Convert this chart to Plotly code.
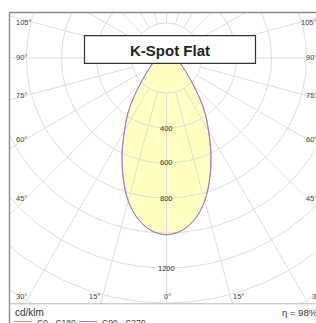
import numpy as np
import plotly.graph_objects as go

# ---------------- data ----------------
gamma_deg = [0, 5, 10, 15, 20, 25, 30, 35, 40, 45, 50, 55, 60, 65, 70, 75, 80, 85, 90]
c0_c180 = [1010, 990, 935, 845, 725, 600, 480, 385, 290, 215, 165, 135, 110, 95, 80, 60, 40, 20, 0]
c90_c270 = [1010, 990, 935, 845, 725, 600, 480, 385, 290, 215, 165, 135, 110, 95, 80, 60, 40, 20, 0]
radial_ticks = [400, 600, 800, 1200]
grid_radii = [200, 400, 600, 800, 1000, 1200, 1400, 1600, 1800, 2000]
side_labels = ["105°", "90°", "75°", "60°", "45°"]
bottom_labels = ["30°", "15°", "0°", "15°", "30°"]
title = "K-Spot Flat"
unit = "cd/klm"
efficiency = "η = 98%"
series_names = ["C0 - C180", "C90 - C270"]

# ---------------- geometry (pixel layout) ----------------
W, H = 316, 323
L, T, B = 10, 13, 304          # plot area edges in px
CX, CY = 166.5, 58.0           # pole position in px
S = 0.175                      # px per cd/klm

def px(x):
    return (x - L) / (W - L)

def py(y):
    return (B - y) / (B - T)

FONT = "Liberation Sans, Arial, sans-serif"
GRID = "rgb(222,222,222)"
C0_COL = "rgb(226,150,150)"
C90_COL = "rgb(150,120,215)"

def curve(vals):
    g = np.radians(np.array(gamma_deg, dtype=float))
    v = np.array(vals, dtype=float)
    gg = np.concatenate([-g[::-1], g[1:]])
    vv = np.concatenate([v[::-1], v[1:]])
    return vv * np.sin(gg), -vv * np.cos(gg)

fig = go.Figure()

# filled distribution
fx, fy = curve(c90_c270)
fig.add_trace(go.Scatter(x=fx, y=fy, mode="lines", fill="toself",
                         fillcolor="rgb(255,255,194)", line=dict(width=0, shape="spline"),
                         hoverinfo="skip", showlegend=False))

# grid circles
t = np.linspace(0, 2 * np.pi, 361)
for r in grid_radii:
    fig.add_trace(go.Scatter(x=r * np.cos(t), y=r * np.sin(t), mode="lines",
                             line=dict(color=GRID, width=1),
                             hoverinfo="skip", showlegend=False))
# radial lines every 15 deg, starting at first circle
for a in range(0, 360, 15):
    ar = np.radians(a)
    r0, r1 = grid_radii[0], 2600
    fig.add_trace(go.Scatter(x=[r0 * np.sin(ar), r1 * np.sin(ar)],
                             y=[-r0 * np.cos(ar), -r1 * np.cos(ar)], mode="lines",
                             line=dict(color=GRID, width=1),
                             hoverinfo="skip", showlegend=False))

# distribution curves
x0, y0 = curve(c0_c180)
fig.add_trace(go.Scatter(x=x0, y=y0, mode="lines",
                         line=dict(color=C0_COL, width=1, shape="spline"),
                         hoverinfo="skip", showlegend=False))
x9, y9 = curve(c90_c270)
fig.add_trace(go.Scatter(x=x9, y=y9, mode="lines",
                         line=dict(color=C90_COL, width=1, shape="spline"),
                         hoverinfo="skip", showlegend=False))

ann = []
# radial value labels along the 0 deg axis
for v in radial_ticks:
    ann.append(dict(x=px(CX), y=py(CY + v * S), xref="paper", yref="paper",
                    text=str(v), showarrow=False, xanchor="center", yanchor="middle",
                    font=dict(family=FONT, size=7.5, color="#333")))

side_y = [23, 57, 95, 139, 199]
for lab, yy in zip(side_labels, side_y):
    ann.append(dict(x=px(14), y=py(yy), xref="paper", yref="paper", text=lab,
                    showarrow=False, xanchor="left", yanchor="middle",
                    font=dict(family=FONT, size=7.5, color="#444")))
    ann.append(dict(x=px(319), y=py(yy), xref="paper", yref="paper", text=lab,
                    showarrow=False, xanchor="right", yanchor="middle",
                    font=dict(family=FONT, size=7.5, color="#444")))

bottom_x = [(14, "left"), (94.5, "center"), (167.3, "center"), (238.3, "center"), (310, "left")]
for lab, (xx, anc) in zip(bottom_labels, bottom_x):
    ann.append(dict(x=px(xx), y=py(296), xref="paper", yref="paper", text=lab,
                    showarrow=False, xanchor=anc, yanchor="middle",
                    font=dict(family=FONT, size=7.5, color="#444")))

# title
ann.append(dict(x=px(170), y=py(50), xref="paper", yref="paper", text="<b>%s</b>" % title,
                showarrow=False, xanchor="center", yanchor="middle",
                font=dict(family=FONT, size=15, color="#222")))
# footer
ann.append(dict(x=px(13), y=py(313), xref="paper", yref="paper", text=unit,
                showarrow=False, xanchor="left", yanchor="middle",
                font=dict(family=FONT, size=10, color="#333")))
ann.append(dict(x=px(320), y=py(313), xref="paper", yref="paper", text=efficiency,
                showarrow=False, xanchor="right", yanchor="middle",
                font=dict(family=FONT, size=9.5, color="#333")))
leg = [(14, 32, 35, C0_COL), (79, 97, 100, C90_COL)]
shapes = []
for name, (l0, l1, tx, col) in zip(series_names, leg):
    shapes.append(dict(type="line", xref="paper", yref="paper", x0=px(l0), x1=px(l1),
                       y0=py(321.5), y1=py(321.5), line=dict(color=col, width=1)))
    ann.append(dict(x=px(tx), y=py(323), xref="paper", yref="paper", text=name,
                    showarrow=False, xanchor="left", yanchor="middle",
                    font=dict(family=FONT, size=8.5, color="#444")))

# title box
shapes.append(dict(type="rect", xref="paper", yref="paper", x0=px(84.5), x1=px(255.5),
                   y0=py(63.3), y1=py(35.7), fillcolor="white",
                   line=dict(color="#333", width=1.2), layer="above"))
# frame
shapes.append(dict(type="rect", xref="paper", yref="paper", x0=px(9.5), x1=px(322.5),
                   y0=py(345), y1=py(12.5), line=dict(color="#8a8a8a", width=1.4),
                   layer="above"))
shapes.append(dict(type="line", xref="paper", yref="paper", x0=px(9.5), x1=px(322.5),
                   y0=py(303.8), y1=py(303.8), line=dict(color="#b8b8b8", width=1),
                   layer="above"))

fig.update_layout(
    width=W, height=H,
    margin=dict(l=L, r=0, t=T, b=H - B),
    paper_bgcolor="white", plot_bgcolor="white",
    xaxis=dict(range=[(L - CX) / S, (W - CX) / S], visible=False, fixedrange=True),
    yaxis=dict(range=[(CY - B) / S, (CY - T) / S], visible=False, fixedrange=True),
    annotations=ann, shapes=shapes, showlegend=False,
)

fig.write_html("out.html", config={"displayModeBar": False},
               post_script="document.body.style.margin='0px';document.body.style.overflow='hidden';")
